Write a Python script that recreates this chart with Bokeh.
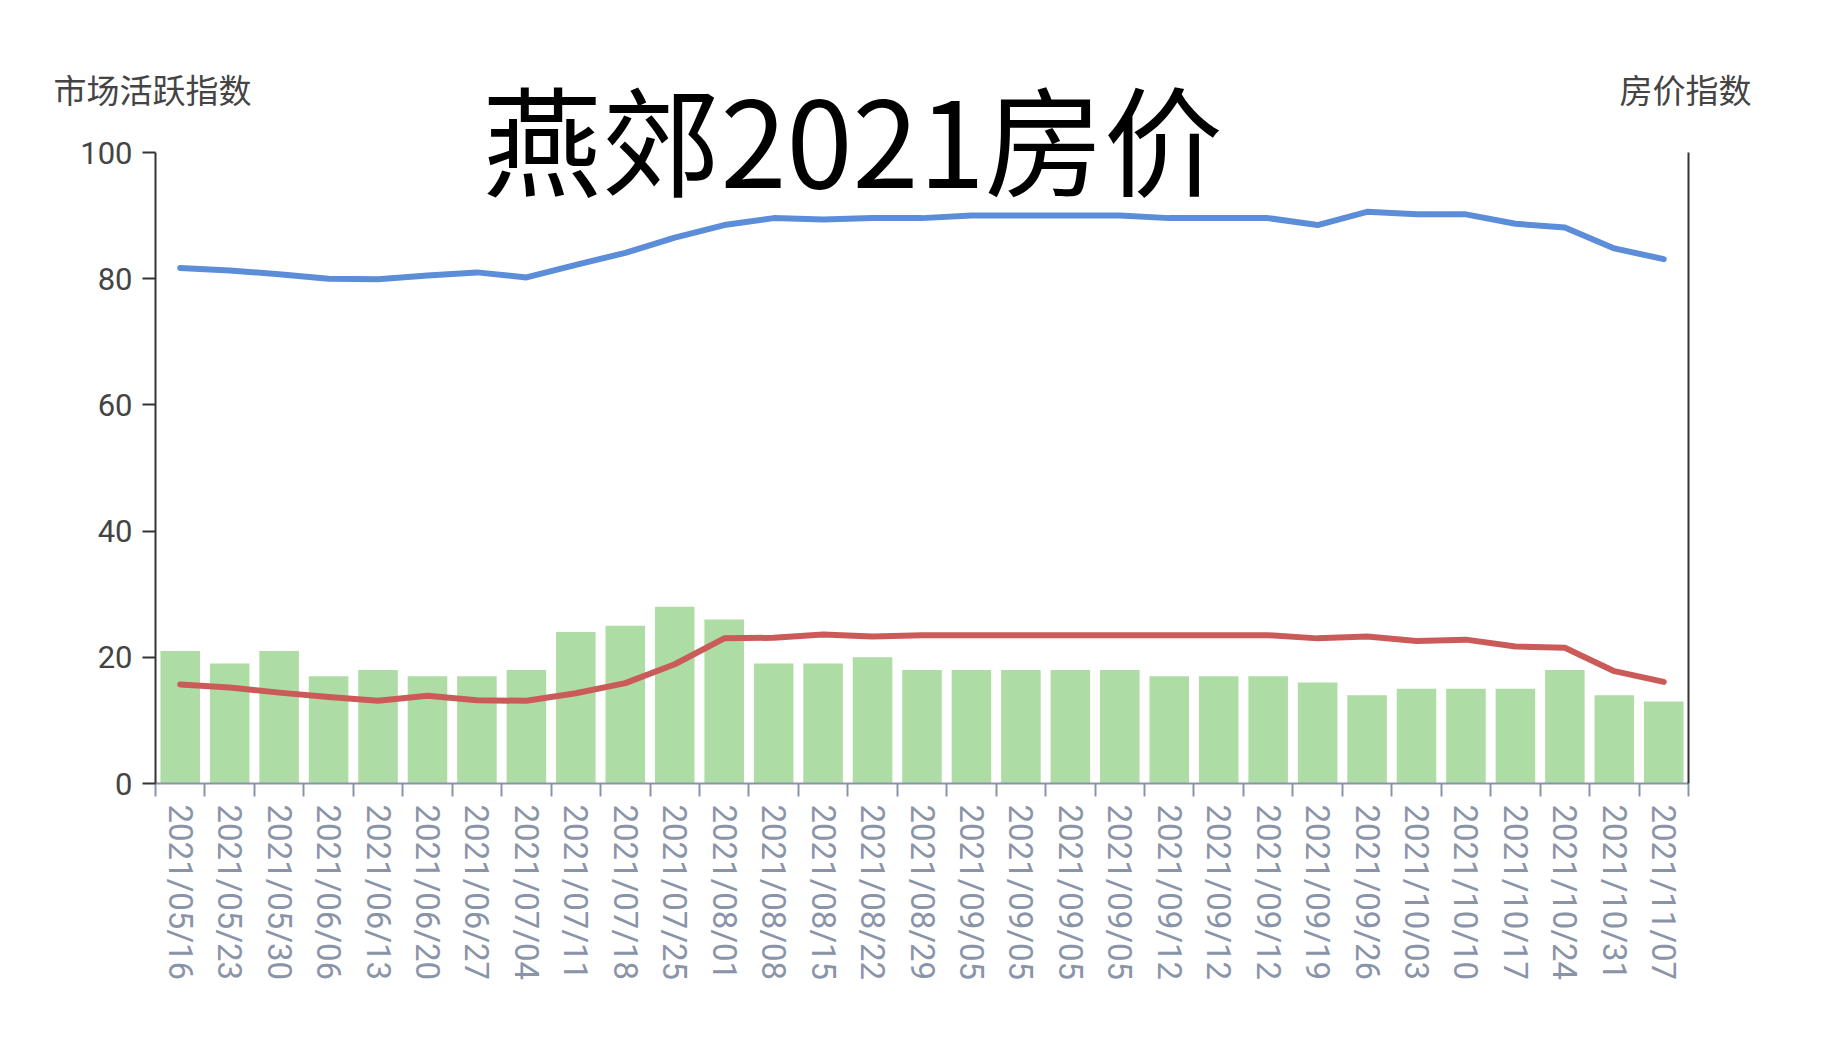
import math
from bokeh.plotting import figure
from bokeh.models import Range1d, LinearAxis, FixedTicker, Label
from bokeh.embed import file_html
from bokeh.resources import INLINE

# ---- data ----
dates = ["2021/05/16", "2021/05/23", "2021/05/30", "2021/06/06", "2021/06/13",
         "2021/06/20", "2021/06/27", "2021/07/04", "2021/07/11", "2021/07/18",
         "2021/07/25", "2021/08/01", "2021/08/08", "2021/08/15", "2021/08/22",
         "2021/08/29", "2021/09/05", "2021/09/05", "2021/09/05", "2021/09/05",
         "2021/09/12", "2021/09/12", "2021/09/12", "2021/09/19", "2021/09/26",
         "2021/10/03", "2021/10/10", "2021/10/17", "2021/10/24", "2021/10/31",
         "2021/11/07"]
activity = [21, 19, 21, 17, 18, 17, 17, 18, 24, 25, 28, 26, 19, 19, 20, 18,
            18, 18, 18, 18, 17, 17, 17, 16, 14, 15, 15, 15, 18, 14, 13]
price_blue = [81.7, 81.3, 80.7, 80.0, 79.9, 80.5, 81.0, 80.2, 82.2, 84.1,
              86.5, 88.5, 89.6, 89.4, 89.6, 89.6, 90.0, 90.0, 90.0, 90.0,
              89.6, 89.6, 89.6, 88.5, 90.6, 90.2, 90.2, 88.7, 88.1, 84.8, 83.1]
price_red = [15.7, 15.2, 14.4, 13.7, 13.1, 13.9, 13.2, 13.1, 14.3, 15.9,
             18.9, 23.0, 23.1, 23.6, 23.3, 23.5, 23.5, 23.5, 23.5, 23.5,
             23.5, 23.5, 23.5, 23.0, 23.3, 22.6, 22.8, 21.7, 21.5, 17.8, 16.1]
y_ticks = [0, 20, 40, 60, 80, 100]
title_text = "燕郊2021房价"
left_name = "市场活跃指数"
right_name = "房价指数"

n = len(dates)
xs = list(range(1, n + 1))

# ---- layout (canvas pixels) ----
W, H = 1815, 1028
frame_l, frame_r, frame_t, frame_b = 20, 1795, 20, 1015   # drawing frame
axis_l, axis_r, axis_t, axis_b = 155, 1688, 152, 783      # visible chart box
px_x = (axis_r - axis_l) / n
px_y = (axis_b - axis_t) / 100.0
x0 = 0.5 - (axis_l - frame_l) / px_x
x1 = n + 0.5 + (frame_r - axis_r) / px_x
y1 = 100 + (axis_t - frame_t) / px_y
y0 = -(frame_b - axis_b) / px_y

p = figure(width=W, height=H, output_backend="svg", toolbar_location=None,
           x_range=Range1d(x0, x1), y_range=Range1d(y0, y1),
           min_border_left=frame_l, min_border_right=W - frame_r,
           min_border_top=frame_t, min_border_bottom=H - frame_b)
p.extra_y_ranges = {"price": Range1d(y0, y1)}
p.outline_line_color = None
p.xgrid.visible = False
p.ygrid.visible = False
p.background_fill_color = "white"
p.border_fill_color = "white"

# bars and lines
p.vbar(x=xs, top=activity, bottom=0, width=0.8, fill_color="#aedca5", line_color=None)
p.line(xs, price_blue, y_range_name="price", line_width=6, line_color="#5b8dd9",
       line_join="round", line_cap="round")
p.line(xs, price_red, y_range_name="price", line_width=6, line_color="#cb5b59",
       line_join="round", line_cap="round")

# x axis
xa = p.xaxis[0]
xa.fixed_location = 0
xa.bounds = (0.5, n + 0.5)
xa.ticker = FixedTicker(ticks=xs, minor_ticks=[i + 0.5 for i in range(n + 1)])
xa.major_label_overrides = {i: d for i, d in zip(xs, dates)}
xa.major_label_orientation = -math.pi / 2
xa.major_tick_line_color = None
xa.major_tick_out = 0
xa.major_tick_in = 0
xa.minor_tick_line_color = "#8a94a8"
xa.minor_tick_line_width = 2
xa.minor_tick_out = 13
xa.minor_tick_in = 0
xa.axis_line_color = "#8a94a8"
xa.axis_line_width = 2
xa.major_label_standoff = 8
xa.major_label_text_font = "Roboto"
xa.major_label_text_font_size = "33px"
xa.major_label_text_color = "#8a94a8"

# left axis
ya = p.yaxis[0]
ya.fixed_location = 0.5
ya.bounds = (0, 100)
ya.ticker = FixedTicker(ticks=y_ticks)
ya.major_tick_out = 13
ya.major_tick_in = 0
ya.major_tick_line_color = "#333333"
ya.major_tick_line_width = 2
ya.minor_tick_line_color = None
ya.axis_line_color = "#333333"
ya.axis_line_width = 2
ya.major_label_standoff = 10
ya.major_label_text_font = "Roboto"
ya.major_label_text_font_size = "31px"
ya.major_label_text_color = "#444444"

# right axis (line only)
ra = LinearAxis(y_range_name="price", ticker=FixedTicker(ticks=[]),
                fixed_location=n + 0.5, bounds=(0, 100),
                major_label_text_font_size="0px",
                major_tick_line_color=None, minor_tick_line_color=None,
                axis_line_color="#333333", axis_line_width=2)
p.add_layout(ra, "right")

# texts (screen units from frame's bottom-left)
p.add_layout(Label(x=53 - frame_l, y=frame_b - 88, x_units="screen", y_units="screen",
                   text=left_name, text_font="Noto Sans CJK SC", text_font_size="33px",
                   text_color="#444444", text_baseline="middle", text_align="left"))
p.add_layout(Label(x=1619 - frame_l, y=frame_b - 88, x_units="screen", y_units="screen",
                   text=right_name, text_font="Noto Sans CJK SC", text_font_size="33px",
                   text_color="#444444", text_baseline="middle", text_align="left"))
p.add_layout(Label(x=482 - frame_l, y=frame_b - 135, x_units="screen", y_units="screen",
                   text=title_text, text_font="Noto Sans CJK SC", text_font_size="119px",
                   text_color="#000000", text_baseline="middle", text_align="left"))

open("out.html", "w").write(file_html(p, INLINE))
